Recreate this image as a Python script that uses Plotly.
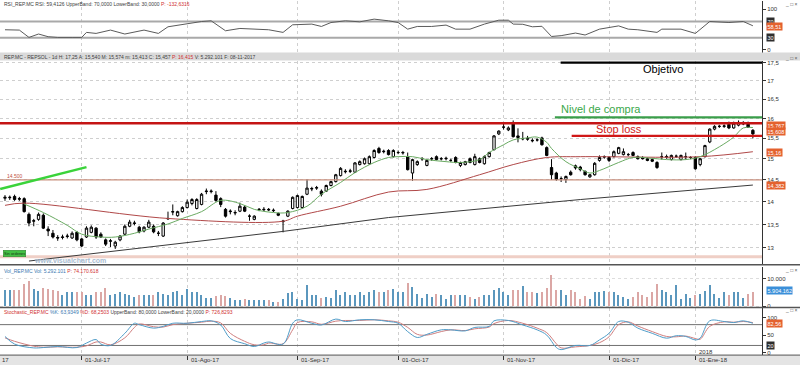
import math
import plotly.graph_objects as go

# ---------------- DATA ----------------
opens = [14.08,14.09,14.12,14.07,14.07,13.72,13.57,13.61,13.70,13.40,
         13.31,13.22,13.22,13.24,13.21,13.33,13.19,13.23,13.33,13.42,
         13.29,13.17,13.14,13.04,13.17,13.29,13.46,13.52,13.44,13.36,
         13.44,13.46,13.31,13.25,13.62,13.77,13.69,13.78,13.87,13.96,
         13.85,13.94,14.23,14.23,14.15,14.07,13.83,13.78,13.75,13.79,
         13.88,13.68,13.61,13.82,13.82,13.83,13.80,13.74,13.56,13.68,
         13.85,13.87,13.87,14.17,14.29,14.31,14.24,14.24,14.37,14.46,
         14.60,14.69,14.70,14.68,14.86,14.88,14.88,15.03,15.25,15.17,
         15.20,15.05,15.15,15.14,15.05,14.66,14.86,15.00,14.84,15.00,
         15.05,15.00,15.00,14.96,15.03,14.84,14.86,15.00,14.86,15.00,
         14.88,15.05,15.22,15.61,15.78,15.71,15.88,15.56,15.49,15.50,
         15.45,15.46,15.51,15.27,14.79,14.66,14.53,14.51,14.68,14.83,
         14.80,14.70,14.57,14.62,14.96,15.04,15.03,15.05,15.13,15.10,
         15.10,15.15,15.05,15.03,15.00,14.98,14.91,15.05,15.04,14.98,
         15.06,14.98,15.05,15.03,15.03,14.86,15.05,15.41,15.73,15.80,
         15.80,15.85,15.76,15.83,15.86,15.88,15.70]
highs = [14.15,14.14,14.16,14.11,14.10,13.76,13.62,13.76,13.74,13.46,
         13.38,13.27,13.28,13.30,13.35,13.36,13.21,13.46,13.48,13.44,
         13.33,13.20,13.19,13.15,13.27,13.50,13.60,13.58,13.47,13.46,
         13.60,13.50,13.36,13.55,13.78,13.94,13.80,13.90,14.05,14.08,
         14.08,14.20,14.30,14.28,14.24,14.10,13.86,13.83,13.81,13.98,
         13.92,13.72,13.70,13.86,13.88,13.86,13.85,13.76,13.60,13.81,
         14.12,14.16,14.14,14.51,14.34,14.36,14.28,14.39,14.48,14.64,
         14.80,14.75,14.76,14.92,14.96,15.03,15.08,15.23,15.29,15.22,
         15.23,15.23,15.20,15.19,15.15,15.00,14.96,15.04,14.98,15.04,
         15.08,15.04,15.05,15.00,15.06,14.93,14.95,15.03,15.12,15.03,
         15.08,15.17,15.58,15.70,15.86,15.80,15.95,15.75,15.66,15.56,
         15.50,15.50,15.54,15.30,14.99,14.69,14.58,14.60,14.72,14.86,
         14.83,14.72,14.64,14.92,15.08,15.08,15.06,15.20,15.29,15.25,
         15.14,15.18,15.08,15.06,15.03,15.01,14.94,15.15,15.10,15.10,
         15.10,15.10,15.15,15.06,15.06,15.02,15.34,15.75,15.83,15.84,
         15.85,15.92,15.92,15.95,15.93,15.92,15.73]
lows = [14.02,14.04,14.02,14.02,13.76,13.46,13.46,13.58,13.40,13.25,
        13.20,13.15,13.18,13.20,13.19,13.14,13.02,13.21,13.31,13.19,
        13.21,13.04,13.02,12.98,13.14,13.27,13.44,13.48,13.31,13.33,
        13.42,13.31,13.25,13.23,13.60,13.70,13.67,13.76,13.85,13.92,
        13.83,13.92,14.17,14.19,14.00,13.88,13.65,13.72,13.70,13.77,
        13.77,13.58,13.59,13.79,13.79,13.79,13.77,13.68,13.33,13.66,
        13.83,13.85,13.85,14.15,14.24,14.27,14.12,14.22,14.35,14.44,
        14.58,14.65,14.66,14.66,14.84,14.86,14.86,15.01,15.12,15.13,
        15.08,15.03,15.11,15.10,14.72,14.48,14.83,14.95,14.82,14.95,
        14.96,14.96,14.96,14.92,14.89,14.80,14.84,14.89,14.84,14.89,
        14.86,15.03,15.20,15.58,15.72,15.68,15.52,15.40,15.45,15.44,
        15.40,15.42,15.32,15.06,14.50,14.48,14.45,14.43,14.60,14.74,
        14.70,14.60,14.55,14.60,14.93,15.00,14.92,15.03,15.11,15.08,
        15.06,15.06,14.98,14.98,14.94,14.92,14.76,14.98,15.00,14.96,
        15.02,14.96,14.98,14.99,14.74,14.82,15.03,15.38,15.70,15.76,
        15.76,15.73,15.74,15.80,15.83,15.76,15.50]
closes = [14.10,14.10,14.05,14.06,13.78,13.53,13.58,13.72,13.42,13.36,
          13.23,13.21,13.23,13.25,13.31,13.17,13.04,13.42,13.44,13.23,
          13.23,13.08,13.15,13.12,13.25,13.46,13.55,13.53,13.34,13.44,
          13.55,13.34,13.31,13.53,13.63,13.78,13.78,13.87,13.99,14.05,
          14.05,14.17,14.24,14.24,14.03,13.94,13.68,13.79,13.76,13.90,
          13.79,13.68,13.68,13.83,13.83,13.82,13.81,13.70,13.57,13.79,
          14.10,14.14,14.12,14.31,14.30,14.32,14.17,14.37,14.46,14.62,
          14.77,14.70,14.71,14.90,14.93,15.00,15.05,15.20,15.15,15.18,
          15.10,15.20,15.15,15.15,14.74,14.98,14.93,15.00,14.96,15.00,
          14.98,15.00,15.01,14.96,14.91,14.91,14.93,14.91,15.05,14.91,
          15.05,15.15,15.56,15.68,15.78,15.76,15.54,15.52,15.49,15.48,
          15.44,15.46,15.34,15.08,14.62,14.51,14.53,14.58,14.62,14.78,
          14.74,14.62,14.62,14.89,15.03,15.05,14.96,15.17,15.27,15.17,
          15.10,15.08,15.00,15.00,14.96,14.94,14.79,15.05,15.05,15.08,
          15.06,15.08,15.05,15.03,14.76,15.00,15.32,15.73,15.80,15.80,
          15.81,15.76,15.88,15.90,15.90,15.78,15.61]
volume_k = [5800,5800,5800,6000,8200,9400,6400,5600,6600,6400,
            6100,5600,4200,5400,5400,5200,5400,4000,4200,5200,
            5400,6600,4200,4600,5200,4600,4200,3400,4200,4200,
            4200,4200,5200,4600,4200,5200,5600,4000,6400,5200,
            5200,4200,3000,3000,3750,4200,3750,3000,2200,2500,
            2800,2500,2500,2500,2500,2500,1600,1600,2800,5000,
            5200,2800,2200,7800,4200,4000,3000,3400,3000,5800,
            4200,5400,4200,4000,5200,4200,5200,5800,5400,5200,
            5800,6400,5200,5400,8600,7000,4600,3200,4600,3400,
            4600,4200,2800,4200,4200,4200,4200,3400,2800,3400,
            4200,4200,6100,6600,5200,4200,5800,5800,7400,5400,
            5200,5000,5200,6600,11400,6100,6100,4200,5800,5200,
            2800,3750,2800,5200,5200,5600,5200,5200,4200,3400,
            2800,3400,5200,4200,3400,5200,8200,5800,5200,4200,
            7800,2800,4600,3000,4200,4600,5600,7800,4600,3000,
            5200,4200,5200,5200,3000,4600,5300]

# moving averages (session index, price)
ma_short_x = [4, 8, 13, 16, 20, 23, 27, 30, 34, 37, 41, 45, 49, 52, 56, 59, 63, 66, 70, 73,
              77, 80, 82, 85, 88, 92, 95, 99, 101, 104, 106, 109, 111, 113, 114, 117, 120,
              122, 124, 128, 131, 135, 138, 142, 145, 149, 152, 154, 156]
ma_short_y = [13.95, 13.76, 13.48, 13.29, 13.23, 13.23, 13.31, 13.40, 13.51, 13.63, 13.78,
              14.03, 13.96, 13.83, 13.76, 13.76, 13.90, 14.17, 14.44, 14.67, 14.91, 15.03,
              15.05, 15.05, 14.98, 14.93, 14.91, 14.98, 15.15, 15.34, 15.46, 15.51, 15.53,
              15.40, 15.25, 14.93, 14.76, 14.66, 14.72, 14.91, 15.03, 15.01, 14.98, 14.98,
              15.05, 15.29, 15.53, 15.76, 15.77]
ma_mid_x = [0, 4, 34, 58, 61, 70, 80, 88, 99, 106, 113, 120, 145, 156]
ma_mid_y = [13.92, 13.97, 13.63, 13.57, 13.68, 13.90, 14.22, 14.28, 14.62, 14.86, 15.03,
            15.05, 15.05, 15.17]
ma_long_x = [5, 38, 58, 80, 120, 156]
ma_long_y = [12.73, 13.12, 13.35, 13.65, 14.05, 14.38]

rsi_x = [0, 3, 5, 7, 9, 11, 14, 16, 17, 19, 22, 25, 29, 32, 34, 38, 41, 43, 46, 49, 52,
         55, 58, 60, 64, 66, 68, 71, 74, 77, 80, 82, 84, 86, 89, 92, 94, 97, 100, 103,
         105, 106, 108, 110, 112, 114, 116, 119, 121, 124, 128, 130, 132, 136, 137, 141,
         144, 147, 151, 154, 156]
rsi_y = [49.5, 48.7, 30.7, 39, 32.4, 30.7, 30.7, 30.7, 43, 40.5, 48.7, 39, 48.7, 40.5, 56.8,
         65, 69.8, 71.5, 47, 52.7, 51.2, 49.5, 43, 61.7, 63.4, 57.6, 67.3, 71.5, 69, 75.6,
         71.5, 67.3, 51, 57.6, 57.6, 61, 51, 51, 63.4, 73, 73, 63.4, 63, 56.8, 58, 33, 35,
         41.4, 36.6, 51, 59, 51, 49.5, 43, 51, 51, 40.5, 69.8, 67.3, 69.8, 59.3]

stoch_x = [0, 2, 6, 8, 11, 15, 17, 19, 20, 22, 25, 27, 28, 31, 33, 35, 38, 41, 43, 45,
           47, 50, 52, 54, 55, 58, 60, 61, 64, 66, 69, 71, 74, 77, 80, 82, 84, 86, 88, 91,
           93, 96, 98, 101, 102, 105, 108, 111, 113, 115, 116, 119, 122, 124, 126, 128,
           130, 132, 135, 138, 140, 142, 144, 145, 147, 150, 152, 154, 156]
stoch_k = [46, 24, 13, 14, 17, 14, 27, 37, 24, 20, 55, 84, 80, 70, 75, 84, 84, 89, 91, 79,
           40, 25, 17, 27, 30, 24, 84, 94, 84, 79, 96, 89, 94, 94, 89, 84, 60, 43, 52, 65,
           65, 62, 72, 75, 91, 92, 79, 65, 50, 14, 8, 20, 20, 36, 55, 89, 87, 70, 55, 41,
           48, 46, 36, 41, 91, 89, 86, 91, 84]
stoch_d = [42, 32, 18, 15, 16, 15, 19, 30, 30, 22, 42, 72, 82, 74, 73, 80, 84, 87, 90, 85,
           55, 32, 22, 22, 27, 25, 65, 86, 88, 81, 90, 92, 92, 94, 91, 87, 72, 52, 50, 60,
           65, 63, 68, 73, 83, 92, 84, 70, 57, 25, 13, 16, 20, 28, 45, 80, 88, 76, 60, 46,
           45, 47, 40, 38, 75, 88, 87, 89, 86]

month_idx = [16, 38, 61, 82, 104, 126, 144]
month_lbl = ['01-Jul-17', '01-Ago-17', '01-Sep-17', '01-Oct-17', '01-Nov-17', '01-Dic-17', '01-Ene-18']

level_resist = 15.88
level_support = 14.50
level_floor = 12.82
level_buy = 16.03
level_stop = 15.56
level_target = 17.50
trend_x = [-1, 17]
trend_y = [14.29, 14.80]

price_ticks = [13, 13.5, 14, 14.5, 15, 15.5, 16, 16.5, 17, 17.5]
price_tick_lbl = ['13', '13,5', '14', '14,5', '15', '15,5', '16', '16,5', '17', '17,5']

# ---------------- LAYOUT HELPERS ----------------
W, H, R = 800, 367, 38
PW = W - R
X0, X1 = -1.04, 157.9


def py(p):
    return 1 - p / H


def pxp(p):
    return p / PW


n = len(closes)
idx = list(range(n))
FONT = 'Liberation Sans, Arial, sans-serif'

fig = go.Figure()

# ---------- RSI ----------
for lvl in (70, 30):
    fig.add_trace(go.Scatter(x=[X0, X1], y=[lvl, lvl], mode='lines', xaxis='x', yaxis='y',
                             line=dict(color='#a9a9a9', width=2), hoverinfo='skip'))
fig.add_trace(go.Scatter(x=rsi_x, y=rsi_y, mode='lines', xaxis='x', yaxis='y',
                         line=dict(color='#5a5a5a', width=1)))

# ---------- PRICE ----------
def hline(x0, x1, y, color, width, dash=None):
    fig.add_trace(go.Scatter(x=[x0, x1], y=[y, y], mode='lines', xaxis='x', yaxis='y2',
                             line=dict(color=color, width=width, dash=dash), hoverinfo='skip'))

hline(X0, X1, level_floor, '#efcfc6', 3)
hline(X0, X1, level_support, '#c9917f', 1.2)
fig.add_trace(go.Scatter(x=ma_long_x, y=ma_long_y, mode='lines', xaxis='x', yaxis='y2',
                         line=dict(color='#3a3a3a', width=1)))
fig.add_trace(go.Scatter(x=ma_mid_x, y=ma_mid_y, mode='lines', xaxis='x', yaxis='y2',
                         line=dict(color='#b04848', width=1, shape='spline')))
fig.add_trace(go.Scatter(x=ma_short_x, y=ma_short_y, mode='lines', xaxis='x', yaxis='y2',
                         line=dict(color='#6aaa62', width=1, shape='spline')))
hline(X0, X1, level_resist, '#c41414', 2.5)
hline(114.7, X1, level_buy, '#3a9e4a', 2.2)
hline(118.2, X1, level_stop, '#d01818', 2.2)
hline(115.9, X1, level_target, '#000000', 2.2)
fig.add_trace(go.Scatter(x=trend_x, y=trend_y, mode='lines', xaxis='x', yaxis='y2',
                         line=dict(color='#3ad33a', width=2.5), hoverinfo='skip'))

fig.add_trace(go.Candlestick(x=idx, open=opens, high=highs, low=lows, close=closes,
                             xaxis='x', yaxis='y2', whiskerwidth=0,
                             increasing=dict(line=dict(color='#000000', width=1), fillcolor='#ffffff'),
                             decreasing=dict(line=dict(color='#000000', width=1), fillcolor='#000000')))

# ---------- VOLUME ----------
vcolors = ['#5b97bd' if c >= o else '#dba7a5' for o, c in zip(opens, closes)]
fig.add_trace(go.Bar(x=idx, y=volume_k, xaxis='x', yaxis='y3', width=0.28,
                     marker=dict(color=vcolors, line=dict(width=0))))

# ---------- STOCHASTIC ----------
for lvl in (80, 20):
    fig.add_trace(go.Scatter(x=[X0, X1], y=[lvl, lvl], mode='lines', xaxis='x', yaxis='y4',
                             line=dict(color='#707070', width=1), hoverinfo='skip'))
fig.add_trace(go.Scatter(x=stoch_x, y=stoch_d, mode='lines', xaxis='x', yaxis='y4',
                         line=dict(color='#cf7f7f', width=1, shape='spline')))
fig.add_trace(go.Scatter(x=stoch_x, y=stoch_k, mode='lines', xaxis='x', yaxis='y4',
                         line=dict(color='#4f9cc8', width=1, shape='spline')))

# ---------- AXES ----------
axfont = dict(family=FONT, size=6, color='#333333')
common_y = dict(side='right', ticks='outside', ticklen=3, tickcolor='#333333', showline=True,
                linecolor='#333333', linewidth=1, zeroline=False, tickfont=axfont, anchor='x',
                fixedrange=True)

fig.update_layout(
    width=W, height=H, margin=dict(l=0, r=R, t=0, b=0),
    paper_bgcolor='#ffffff', plot_bgcolor='#ffffff', showlegend=False,
    font=dict(family=FONT),
    xaxis=dict(domain=[0, 1], range=[X0, X1], anchor='y4', tickvals=month_idx,
               showticklabels=False, ticks='outside', ticklen=4, tickcolor='#333333',
               showgrid=True, gridcolor='#cfcfcf', griddash='dot', gridwidth=1,
               zeroline=False, showline=False, rangeslider=dict(visible=False)),
    yaxis=dict(domain=[py(52), 1], range=[-6.6, 120.2], tickvals=[0, 100], ticktext=['0', '100'],
               showgrid=False, **common_y),
    yaxis2=dict(domain=[py(266), py(60)], type='log',
                range=[math.log10(12.653), math.log10(17.56)],
                tickvals=price_ticks, ticktext=price_tick_lbl,
                showgrid=True, gridcolor='#cfcfcf', griddash='dot', **common_y),
    yaxis3=dict(domain=[py(309), py(268)], range=[-469, 14332], tickvals=[0, 10000],
                ticktext=['0', '10.000'], showgrid=True, gridcolor='#dddddd', griddash='dot',
                **common_y),
    yaxis4=dict(domain=[py(357), py(310)], range=[-7.7, 126.6], tickvals=[0, 50, 100],
                ticktext=['0', '50', '100'], showgrid=False, **common_y),
    bargap=0,
)

XR = W / PW
shapes = [
    dict(type='rect', xref='paper', yref='paper', x0=0, x1=XR, y0=py(60), y1=py(52),
         fillcolor='#dadada', line=dict(width=0), layer='above'),
    dict(type='rect', xref='paper', yref='paper', x0=0, x1=XR, y0=0, y1=py(357),
         fillcolor='#e4e4e4', line=dict(width=0), layer='below'),
    dict(type='line', xref='paper', yref='paper', x0=0, x1=XR, y0=py(266), y1=py(266),
         line=dict(color='#555555', width=1.5)),
    dict(type='line', xref='paper', yref='paper', x0=0, x1=XR, y0=py(309), y1=py(309),
         line=dict(color='#555555', width=1.5)),
    dict(type='line', xref='paper', yref='paper', x0=0, x1=XR, y0=py(357), y1=py(357),
         line=dict(color='#555555', width=1)),
]
fig.update_layout(shapes=shapes)

ann = []


def text(x, y, s, size=5, color='#404040', xanchor='left', xref='paper', **kw):
    ann.append(dict(x=x, y=y, xref=xref, yref='paper', text=s, showarrow=False,
                    xanchor=xanchor, yanchor='middle', font=dict(family=FONT, size=size, color=color),
                    **kw))


RED = '#d03030'
BLUE = '#3a78b0'
text(pxp(2), py(3.5), "RSI_REP.MC RSI: 59,4126 UpperBand: 70,0000 LowerBand: 30,0000 "
     f"<span style='color:{RED}'>P: -132,6316</span>")
text(pxp(2), py(56), "REP.MC - REPSOL - 1d H: 17,25 A: 15,540 M: 15,574 m: 15,413 C: 15,457 "
     f"<span style='color:{RED}'>P: 16,415</span> V: 5.292.101 F: 08-11-2017")
text(pxp(2), py(272), f"<span style='color:{BLUE}'>Vol_REP.MC Vol: 5.292.101</span> "
     f"<span style='color:{RED}'>P: 74.170.618</span>")
text(pxp(2), py(313.5), f"<span style='color:{RED}'>Stochastic_REP.MC</span> "
     f"<span style='color:{BLUE}'>%K: 63,9349</span> <span style='color:{RED}'>%D: 68,2503</span> "
     f"UpperBand: 80,0000 LowerBand: 20,0000 <span style='color:{RED}'>P: 726,8293</span>")

text(pxp(663), py(69), 'Objetivo', size=11, color='#000000', xanchor='center')
text(pxp(601), py(108.5), 'Nivel de compra', size=11, color='#3aa84a', xanchor='center')
text(pxp(619), py(129), 'Stop loss', size=11, color='#d02020', xanchor='center')
text(pxp(5), py(176), '14.500', size=5, color='#c05040')
text(pxp(32), py(262), '<b>www.visualchart.com</b>', size=7, color='#a9bcd0')
text(pxp(3), py(255), 'Sin ordenes', size=4, color='#1a3a1a', bgcolor='#43c043',
     bordercolor='#2a7a2a', borderwidth=0.5, borderpad=0.5)

for m, lbl in zip(month_idx, month_lbl):
    text(m + 0.3, py(362), lbl, size=6, color='#333333', xref='x')
text(0, py(362), '17', size=6, color='#333333')
text(month_idx[-1] + 0.3, py(353.5), '2018', size=6, color='#333333', xref='x')

# window buttons at the top right of each panel
for yb in (3, 57, 271, 312):
    text(pxp(783), py(yb), '_ □ ×', size=5, color='#555555')

# right-side value boxes
def badge(y, s, bg):
    text(pxp(766), py(y), s, size=5.5, color='#ffffff', bgcolor=bg, borderpad=0.5)

badge(20.5, '70', '#2e2e2e')
badge(37, '30', '#2e2e2e')
badge(25.5, '58,51', '#e4612e')
badge(125.5, '15,767', '#e4612e')
badge(131.5, '15,608', '#e4612e')
badge(153, '15,16', '#e4612e')
badge(186, '14,382', '#e4612e')
badge(292, '5.904.162', '#3b8fd9')
badge(347, '20', '#2e2e2e')
badge(325.5, '82,56', '#e4612e')

fig.update_layout(annotations=ann)
fig.write_html('out.html', config={'displayModeBar': False},
               post_script="document.body.style.margin='0';document.body.style.overflow='hidden';")
